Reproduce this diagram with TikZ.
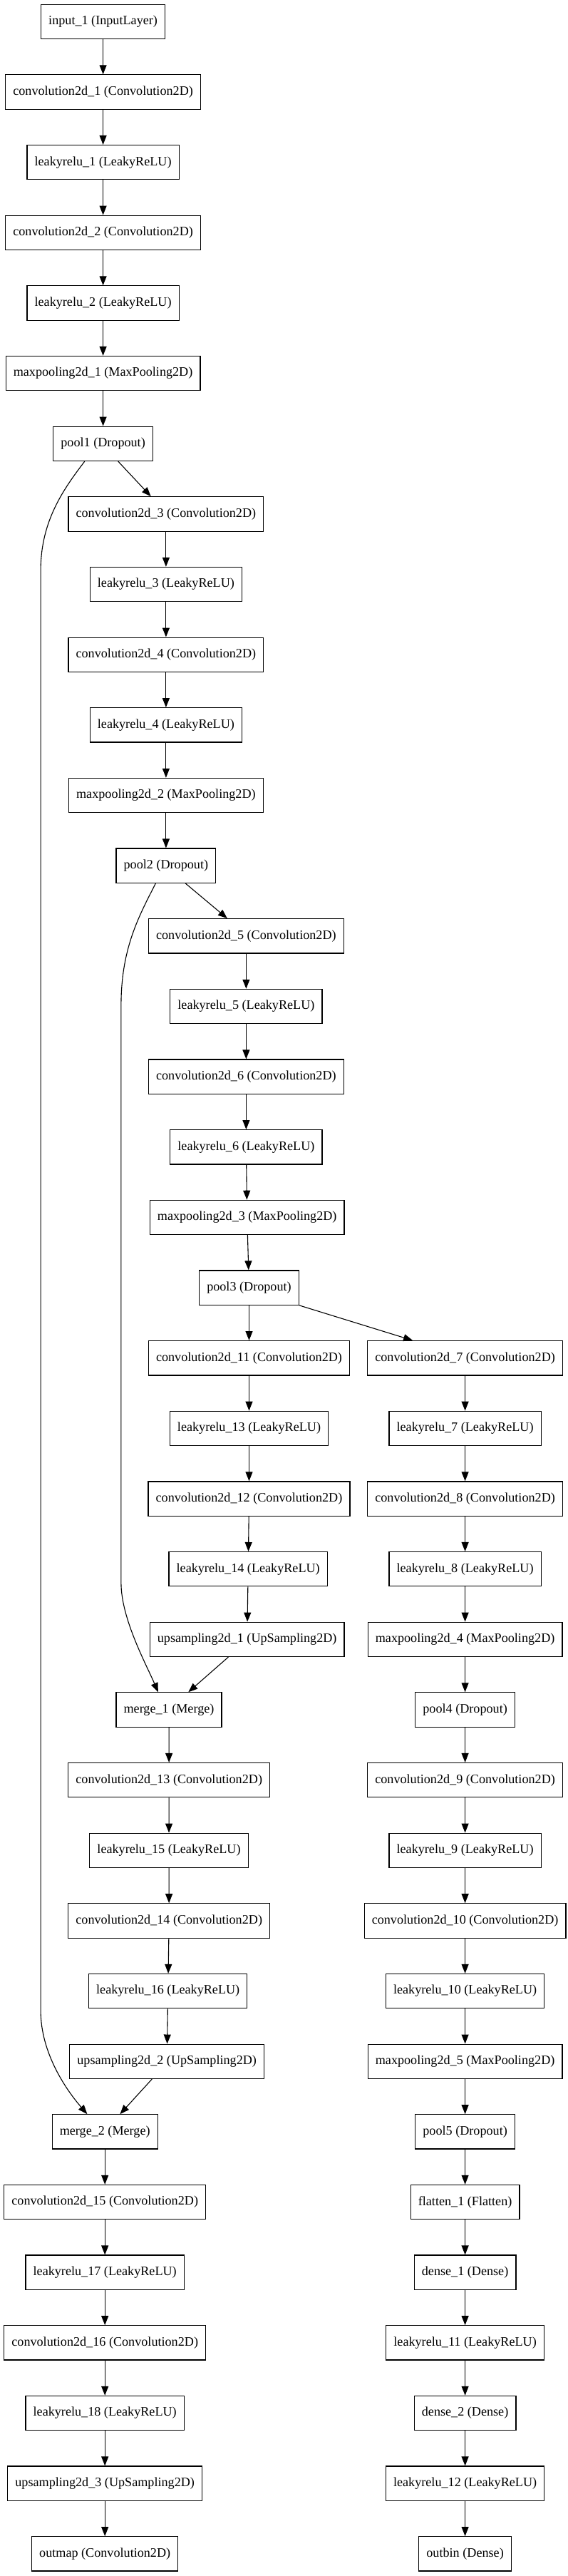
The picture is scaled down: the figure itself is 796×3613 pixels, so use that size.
\documentclass[tikz,border=0pt]{standalone}
\usepackage{fontspec}
\setmainfont{Liberation Serif}
\usetikzlibrary{arrows.meta}
\begin{document}
\begin{tikzpicture}[x=1pt,y=-1pt,
  layer/.style={draw, line width=1.2pt, minimum height=48.3pt, minimum width=72.4pt,
    inner xsep=10.6pt, inner ysep=0pt, font=\fontsize{18.15}{20}\selectfont, anchor=center},
  link/.style={line width=1.1pt, -{Triangle[length=13pt,width=10pt]}}]
\useasboundingbox (0,0) rectangle (796,3613);
% column A
\node[layer] (in) at (144.6,30.4) {input\_1 (InputLayer)};
\node[layer] (c1) at (144.6,129.05) {convolution2d\_1 (Convolution2D)};
\node[layer] (l1) at (144.6,227.7) {leakyrelu\_1 (LeakyReLU)};
\node[layer] (c2) at (144.6,326.35) {convolution2d\_2 (Convolution2D)};
\node[layer] (l2) at (144.6,425.0) {leakyrelu\_2 (LeakyReLU)};
\node[layer] (m1) at (144.6,523.65) {maxpooling2d\_1 (MaxPooling2D)};
\node[layer] (p1) at (144.6,622.3) {pool1 (Dropout)};
% column B
\node[layer] (c3) at (232.9,720.95) {convolution2d\_3 (Convolution2D)};
\node[layer] (l3) at (232.9,819.6) {leakyrelu\_3 (LeakyReLU)};
\node[layer] (c4) at (232.9,918.25) {convolution2d\_4 (Convolution2D)};
\node[layer] (l4) at (232.9,1016.9) {leakyrelu\_4 (LeakyReLU)};
\node[layer] (m2) at (232.9,1115.55) {maxpooling2d\_2 (MaxPooling2D)};
\node[layer] (p2) at (232.9,1214.2) {pool2 (Dropout)};
% column C
\node[layer] (c5) at (345.4,1312.85) {convolution2d\_5 (Convolution2D)};
\node[layer] (l5) at (345.4,1411.5) {leakyrelu\_5 (LeakyReLU)};
\node[layer] (c6) at (345.4,1510.15) {convolution2d\_6 (Convolution2D)};
\node[layer] (l6) at (345.4,1608.8) {leakyrelu\_6 (LeakyReLU)};
\node[layer] (m3) at (346.7,1707.45) {maxpooling2d\_3 (MaxPooling2D)};
\node[layer] (p3) at (349.5,1806.1) {pool3 (Dropout)};
\node[layer] (c11) at (349.5,1904.75) {convolution2d\_11 (Convolution2D)};
\node[layer] (l13) at (349.5,2003.4) {leakyrelu\_13 (LeakyReLU)};
\node[layer] (c12) at (349.5,2102.05) {convolution2d\_12 (Convolution2D)};
\node[layer] (l14) at (348.2,2200.7) {leakyrelu\_14 (LeakyReLU)};
\node[layer] (u1) at (346.7,2299.35) {upsampling2d\_1 (UpSampling2D)};
% decoder
\node[layer] (g1) at (237.0,2398.0) {merge\_1 (Merge)};
\node[layer] (c13) at (237.2,2496.65) {convolution2d\_13 (Convolution2D)};
\node[layer] (l15) at (237.0,2595.3) {leakyrelu\_15 (LeakyReLU)};
\node[layer] (c14) at (237.2,2693.95) {convolution2d\_14 (Convolution2D)};
\node[layer] (l16) at (235.7,2792.6) {leakyrelu\_16 (LeakyReLU)};
\node[layer] (u2) at (234.2,2891.25) {upsampling2d\_2 (UpSampling2D)};
\node[layer] (g2) at (147.2,2989.9) {merge\_2 (Merge)};
\node[layer] (c15) at (147.2,3088.55) {convolution2d\_15 (Convolution2D)};
\node[layer] (l17) at (147.2,3187.2) {leakyrelu\_17 (LeakyReLU)};
\node[layer] (c16) at (147.2,3285.85) {convolution2d\_16 (Convolution2D)};
\node[layer] (l18) at (147.2,3384.5) {leakyrelu\_18 (LeakyReLU)};
\node[layer] (u3) at (147.2,3483.15) {upsampling2d\_3 (UpSampling2D)};
\node[layer] (om) at (147.2,3581.8) {outmap (Convolution2D)};
% right column
\node[layer] (c7) at (652.6,1904.75) {convolution2d\_7 (Convolution2D)};
\node[layer] (l7) at (652.6,2003.4) {leakyrelu\_7 (LeakyReLU)};
\node[layer] (c8) at (652.6,2102.05) {convolution2d\_8 (Convolution2D)};
\node[layer] (l8) at (652.6,2200.7) {leakyrelu\_8 (LeakyReLU)};
\node[layer] (m4) at (652.6,2299.35) {maxpooling2d\_4 (MaxPooling2D)};
\node[layer] (p4) at (652.6,2398.0) {pool4 (Dropout)};
\node[layer] (c9) at (652.6,2496.65) {convolution2d\_9 (Convolution2D)};
\node[layer] (l9) at (652.6,2595.3) {leakyrelu\_9 (LeakyReLU)};
\node[layer] (c10) at (652.6,2693.95) {convolution2d\_10 (Convolution2D)};
\node[layer] (l10) at (652.6,2792.6) {leakyrelu\_10 (LeakyReLU)};
\node[layer] (m5) at (652.6,2891.25) {maxpooling2d\_5 (MaxPooling2D)};
\node[layer] (p5) at (652.6,2989.9) {pool5 (Dropout)};
\node[layer] (fl) at (652.6,3088.55) {flatten\_1 (Flatten)};
\node[layer] (d1) at (652.6,3187.2) {dense\_1 (Dense)};
\node[layer] (l11) at (652.6,3285.85) {leakyrelu\_11 (LeakyReLU)};
\node[layer] (d2) at (652.6,3384.5) {dense\_2 (Dense)};
\node[layer] (l12) at (652.6,3483.15) {leakyrelu\_12 (LeakyReLU)};
\node[layer] (ob) at (652.6,3581.8) {outbin (Dense)};
% straight edges
\foreach \a/\b in {in/c1,c1/l1,l1/c2,c2/l2,l2/m1,m1/p1,
  c3/l3,l3/c4,c4/l4,l4/m2,m2/p2,
  c5/l5,l5/c6,c6/l6,l6/m3,m3/p3,p3/c11,c11/l13,l13/c12,c12/l14,l14/u1,
  g1/c13,c13/l15,l15/c14,c14/l16,l16/u2,
  g2/c15,c15/l17,l17/c16,c16/l18,l18/u3,u3/om,
  c7/l7,l7/c8,c8/l8,l8/m4,m4/p4,p4/c9,c9/l9,l9/c10,c10/l10,l10/m5,m5/p5,p5/fl,fl/d1,d1/l11,l11/d2,d2/l12,l12/ob}
  \draw[link] (\a) -- (\b);
% diagonal edges
\draw[link] ([xshift=21.1pt]p1.south) -- ([xshift=-21.2pt]c3.north);
\draw[link] ([xshift=27.3pt]p2.south) -- ([xshift=-26.5pt]c5.north);
\draw[link] (p3.south east) -- ([xshift=-73.5pt]c7.north);
\draw[link] ([xshift=-26.3pt]u1.south) -- ([xshift=27.3pt]g1.north);
\draw[link] ([xshift=-20.9pt]u2.south) -- ([xshift=21.2pt]g2.north);
% skip connections
\draw[link] ([xshift=-25.8pt]p1.south) .. controls (90,685) and (57.1,730) .. (57.1,800)
  -- (57.1,2820) .. controls (57.1,2880) and (93.4,2931.7) .. ([xshift=-24.8pt]g2.north);
\draw[link] ([xshift=-14.5pt]p2.south) .. controls (195,1285) and (169.9,1330) .. (169.9,1410)
  -- (169.9,2220) .. controls (169.9,2270) and (205,2334) .. ([xshift=-15.1pt]g1.north);
\end{tikzpicture}
\end{document}
